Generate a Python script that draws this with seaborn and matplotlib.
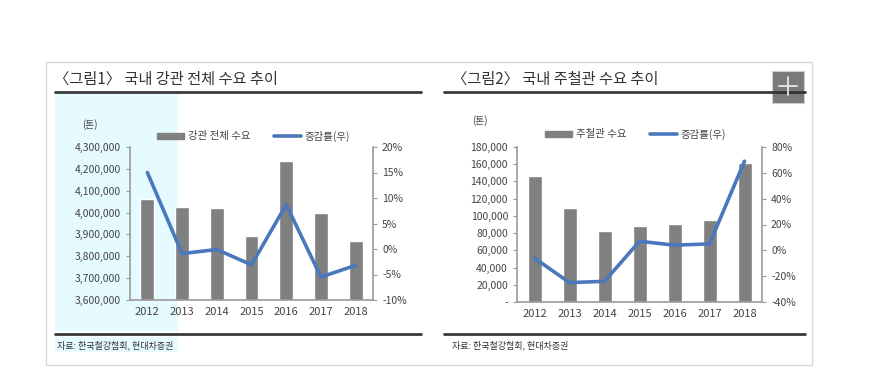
import numpy as np
import pandas as pd
import matplotlib
matplotlib.use("Agg")
import matplotlib.pyplot as plt
import seaborn as sns
from matplotlib.patches import Rectangle, Patch
from matplotlib.lines import Line2D

# ---- data ----
years = ["2012", "2013", "2014", "2015", "2016", "2017", "2018"]
pipe_demand = [4060000, 4025000, 4020000, 3895000, 4235000, 4000000, 3870000]
pipe_rate = [15.0, -0.9, -0.1, -3.1, 8.7, -5.5, -3.2]
cast_demand = [146000, 109000, 82000, 88000, 91000, 95000, 162000]
cast_rate = [-6.0, -25.0, -24.0, 7.0, 4.0, 5.0, 69.0]

titles = ["〈그림1〉 국내 강관 전체 수요 추이", "〈그림2〉 국내 주철관 수요 추이"]
bar_names = ["강관 전체 수요", "주철관 수요"]
line_name = "증감률(우)"
unit = "(톤)"
source = "자료: 한국철강협회, 현대차증권"

sns.set_style("white")
plt.rcParams['font.family'] = ['Noto Sans CJK KR', 'DejaVu Sans']
plt.rcParams['axes.unicode_minus'] = False

W, H = 873, 376
fig = plt.figure(figsize=(W / 100, H / 100), dpi=100)

def fx(x):
    return x / W

def fy(y):
    return 1 - y / H

BAR = "#808080"
BLUE = "#4a78bd"
SPINE = "#9a9a9a"
TXT = "#444444"

# outer frame
fig.add_artist(Rectangle((fx(46), fy(365)), fx(812) - fx(46), fy(62) - fy(365),
                         transform=fig.transFigure, fill=False, ec="#d8d8d8", lw=1))
# selection highlight on left panel
fig.add_artist(Rectangle((fx(55), fy(331)), fx(178) - fx(55), fy(93) - fy(331),
                         transform=fig.transFigure, fc="#e6fbff", ec="none", zorder=0))
fig.add_artist(Rectangle((fx(55), fy(352)), fx(178) - fx(55), fy(337) - fy(352),
                         transform=fig.transFigure, fc="#e6fbff", ec="none", zorder=0))

panels = [
    dict(box=(130, 373, 147, 300), x0=55, x1=421, demand=pipe_demand, rate=pipe_rate,
         ylim=(3600000, 4300000), ystep=100000, rlim=(-10, 20), rstep=5,
         leg=(158, 136), unit_xy=(90, 125), title_x=54, src_x=57),
    dict(box=(517, 762, 147, 302), x0=444, x1=805, demand=cast_demand, rate=cast_rate,
         ylim=(0, 180000), ystep=20000, rlim=(-40, 80), rstep=20,
         leg=(546, 134), unit_xy=(480, 121), title_x=452, src_x=452),
]

for i, p in enumerate(panels):
    l, r, t, b = p["box"]
    ax = fig.add_axes([fx(l), fy(b), fx(r) - fx(l), fy(t) - fy(b)])
    ax.set_facecolor("none")
    df = pd.DataFrame({"year": years, "demand": p["demand"], "rate": p["rate"]})
    sns.barplot(data=df, x="year", y="demand", color=BAR, saturation=1, width=0.4, ax=ax)
    ax.set_ylim(*p["ylim"])
    ax.set_xlim(-0.5, 6.5)
    ticks = np.arange(p["ylim"][0], p["ylim"][1] + 1, p["ystep"])
    ax.set_yticks(ticks)
    if i == 0:
        ax.set_yticklabels([f"{v:,.0f}" for v in ticks])
    else:
        ax.set_yticklabels(["-"] + [f"{v:,.0f}" for v in ticks[1:]])
    ax.set_xlabel("")
    ax.set_ylabel("")
    ax.set_xticks(np.arange(-0.5, 7, 1), minor=True)
    ax.tick_params(axis="x", which="major", length=0, labelsize=8, colors=TXT, pad=5)
    ax.tick_params(axis="x", which="minor", length=3, color=SPINE, direction="out")
    ax.tick_params(axis="y", length=3, color=SPINE, labelsize=7.5, labelcolor=TXT, direction="out")
    for s in ["left", "bottom"]:
        ax.spines[s].set_color(SPINE)
        ax.spines[s].set_linewidth(1.2)
    ax.spines["top"].set_visible(False)
    ax.spines["right"].set_visible(False)

    ax2 = ax.twinx()
    sns.pointplot(data=df, x="year", y="rate", color=BLUE, markers="", linewidth=2.6,
                  errorbar=None, ax=ax2)
    ax2.set_xlim(-0.5, 6.5)
    ax2.set_ylim(*p["rlim"])
    rt = np.arange(p["rlim"][0], p["rlim"][1] + 1, p["rstep"])
    ax2.set_yticks(rt)
    ax2.set_yticklabels([f"{v:.0f}%" for v in rt])
    ax2.set_ylabel("")
    ax2.set_xlabel("")
    ax2.tick_params(axis="y", length=3, color=SPINE, labelsize=7.5, labelcolor=TXT, direction="out")
    for s in ["top", "left", "bottom"]:
        ax2.spines[s].set_visible(False)
    ax2.spines["right"].set_color(SPINE)
    ax2.spines["right"].set_linewidth(1.2)

    # legend
    handles = [Patch(color=BAR), Line2D([0], [0], color=BLUE, lw=2.6)]
    lx, ly = p["leg"]
    fig.legend(handles, [bar_names[i], line_name], loc="center left",
               bbox_to_anchor=(fx(lx) - 0.012, fy(ly)), ncol=2, frameon=False,
               fontsize=7.5, handlelength=2.6, handleheight=0.5, columnspacing=2.2,
               handletextpad=0.4, labelcolor=TXT)

    ux, uy = p["unit_xy"]
    fig.text(fx(ux), fy(uy), unit, fontsize=7, color=TXT, ha="center", va="center")

    # title and rules
    fig.text(fx(p["title_x"]), fy(79), titles[i], fontsize=11, color="#333333",
             ha="left", va="center")
    fig.add_artist(Line2D([fx(p["x0"]), fx(p["x1"])], [fy(92), fy(92)],
                          transform=fig.transFigure, color="#3a3a3a", lw=2))
    fig.add_artist(Line2D([fx(p["x0"]), fx(p["x1"])], [fy(334), fy(334)],
                          transform=fig.transFigure, color="#3a3a3a", lw=2))
    fig.text(fx(p["src_x"]), fy(345), source, fontsize=6.5, color="#333333",
             ha="left", va="center")

# "+" button on right panel
fig.add_artist(Rectangle((fx(772), fy(103)), fx(804) - fx(772), fy(71) - fy(103),
                         transform=fig.transFigure, fc="#7a7a7a", ec="#cccccc", lw=0.8, zorder=5))
fig.add_artist(Line2D([fx(772), fx(804)], [fy(92), fy(92)], transform=fig.transFigure,
                      color="#333333", lw=2, zorder=6))
fig.add_artist(Line2D([fx(779), fx(797)], [fy(86), fy(86)], transform=fig.transFigure,
                      color="#e8e8e8", lw=1.3, zorder=7))
fig.add_artist(Line2D([fx(788), fx(788)], [fy(77), fy(95)], transform=fig.transFigure,
                      color="#e8e8e8", lw=1.3, zorder=7))

fig.savefig("out.png", dpi=100)
